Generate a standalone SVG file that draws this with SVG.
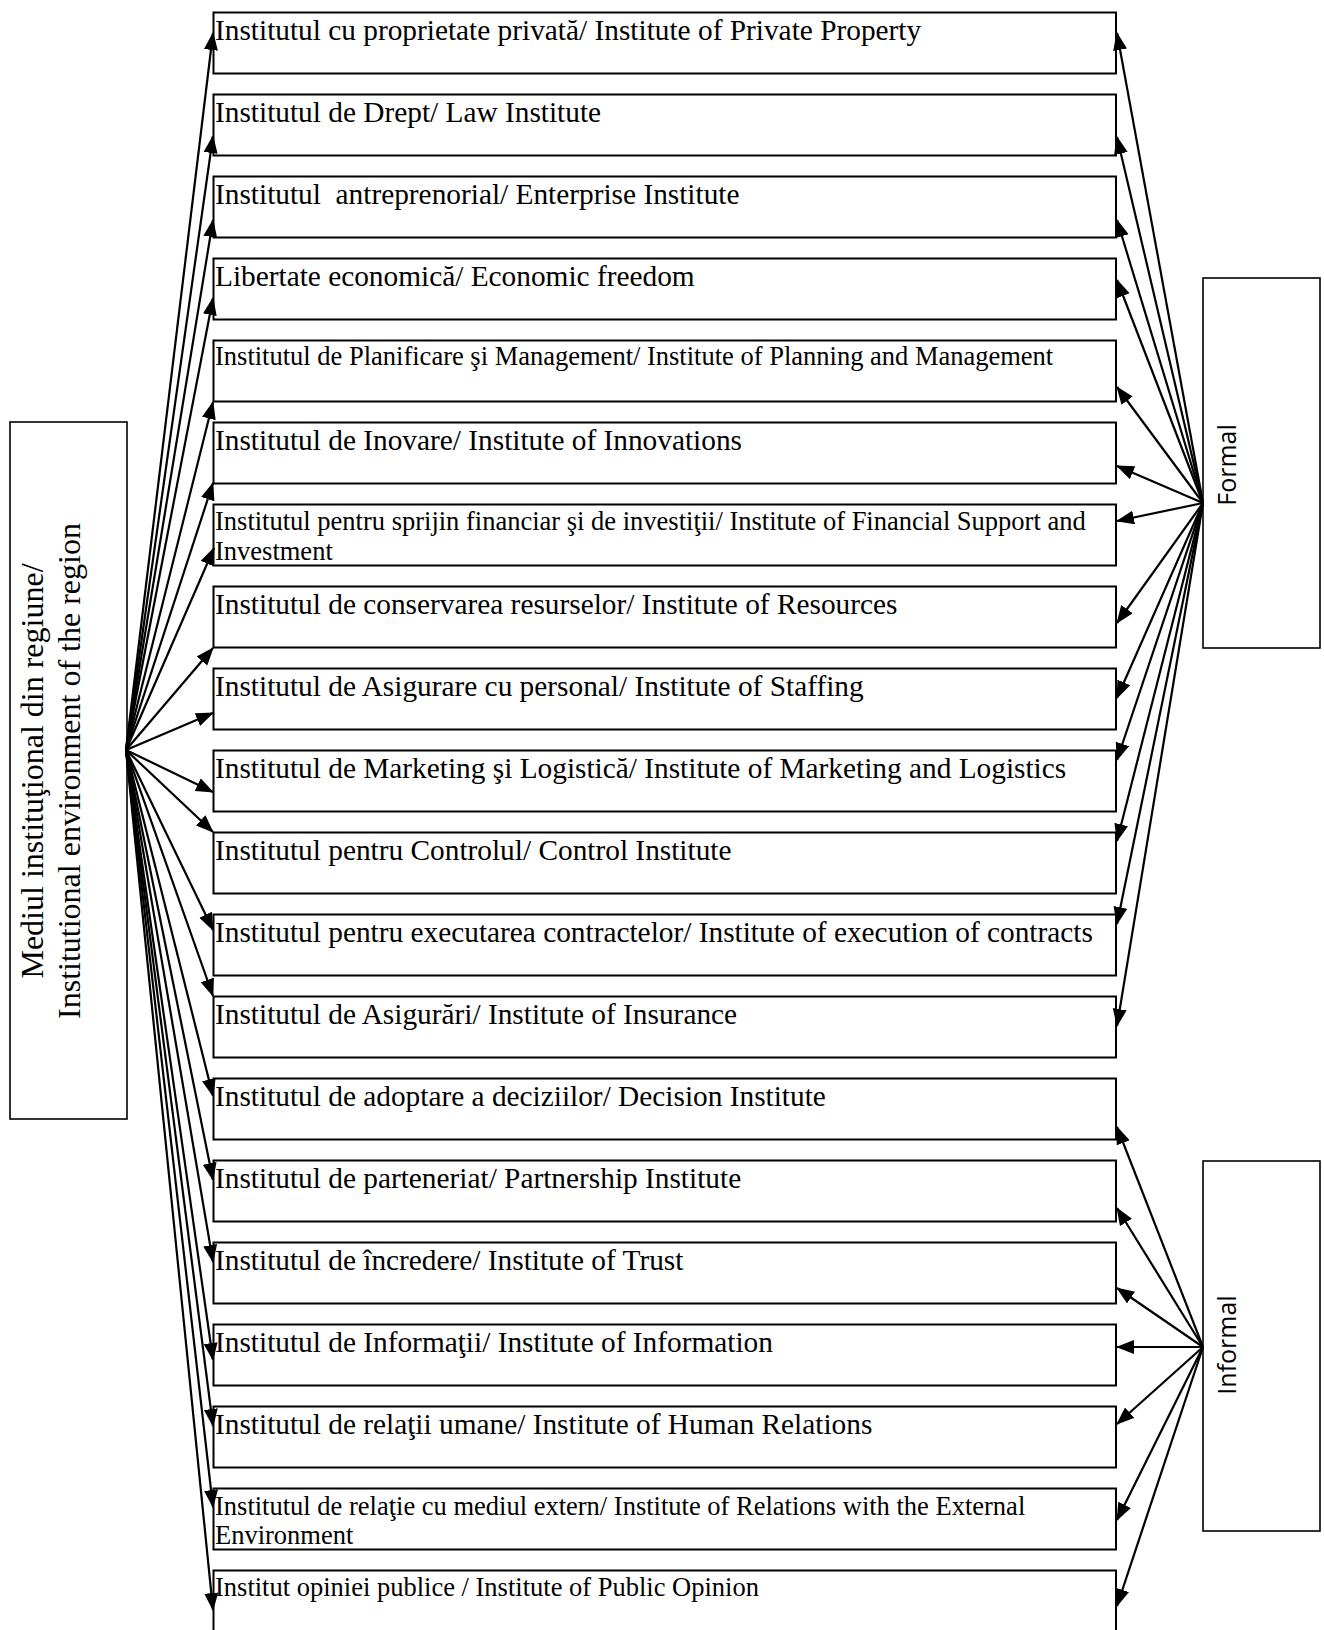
<svg xmlns="http://www.w3.org/2000/svg" width="1324" height="1630" viewBox="0 0 1324 1630">
<style>
.box{fill:#fff;stroke:#000;stroke-width:2}
.side{fill:#fff;stroke:#000;stroke-width:1.6}
.t{font-family:"Liberation Serif","Times New Roman",serif;font-size:29.33px;fill:#000}
.s{font-family:"Liberation Serif","Times New Roman",serif;font-size:26.5px;fill:#000}
.lt{font-family:"Liberation Serif","Times New Roman",serif;font-size:32px;fill:#000}
.st{font-family:"Open Sans","Liberation Sans",sans-serif;font-size:25px;fill:#000}
.c line{stroke:#000;stroke-width:2.2;marker-end:url(#ah)}
</style>
<defs>
<marker id="ah" markerUnits="userSpaceOnUse" markerWidth="18" markerHeight="15" refX="17" refY="7" orient="auto">
<path d="M0,0 L18,7 L0,14 z" fill="#000"/>
</marker>
</defs>
<g id="n1"><rect class="box" x="213.5" y="12.5" width="902.5" height="61"/><text class="t" x="215" y="39.5">Institutul cu proprietate privată/ Institute of Private Property</text></g>
<g id="n2"><rect class="box" x="213.5" y="94.5" width="902.5" height="61"/><text class="t" x="215" y="121.5">Institutul de Drept/ Law Institute</text></g>
<g id="n3"><rect class="box" x="213.5" y="176.5" width="902.5" height="61"/><text class="t" x="215" y="203.5" xml:space="preserve">Institutul  antreprenorial/ Enterprise Institute</text></g>
<g id="n4"><rect class="box" x="213.5" y="258.5" width="902.5" height="61"/><text class="t" x="215" y="285.5">Libertate economică/ Economic freedom</text></g>
<g id="n5"><rect class="box" x="213.5" y="340.5" width="902.5" height="61"/><text class="s" x="215" y="365">Institutul de Planificare şi Management/ Institute of Planning and Management</text></g>
<g id="n6"><rect class="box" x="213.5" y="422.5" width="902.5" height="61"/><text class="t" x="215" y="449.5">Institutul de Inovare/ Institute of Innovations</text></g>
<g id="n7"><rect class="box" x="213.5" y="504.5" width="902.5" height="61"/><text class="s" x="215" y="530">Institutul pentru sprijin financiar şi de investiţii/ Institute of Financial Support and</text><text class="s" x="215" y="560">Investment</text></g>
<g id="n8"><rect class="box" x="213.5" y="586.5" width="902.5" height="61"/><text class="t" x="215" y="613.5">Institutul de conservarea resurselor/ Institute of Resources</text></g>
<g id="n9"><rect class="box" x="213.5" y="668.5" width="902.5" height="61"/><text class="t" x="215" y="695.5">Institutul de Asigurare cu personal/ Institute of Staffing</text></g>
<g id="n10"><rect class="box" x="213.5" y="750.5" width="902.5" height="61"/><text class="t" x="215" y="777.5">Institutul de Marketing şi Logistică/ Institute of Marketing and Logistics</text></g>
<g id="n11"><rect class="box" x="213.5" y="832.5" width="902.5" height="61"/><text class="t" x="215" y="859.5">Institutul pentru Controlul/ Control Institute</text></g>
<g id="n12"><rect class="box" x="213.5" y="914.5" width="902.5" height="61"/><text class="t" x="215" y="941.5">Institutul pentru executarea contractelor/ Institute of execution of contracts</text></g>
<g id="n13"><rect class="box" x="213.5" y="996.5" width="902.5" height="61"/><text class="t" x="215" y="1023.5">Institutul de Asigurări/ Institute of Insurance</text></g>
<g id="n14"><rect class="box" x="213.5" y="1078.5" width="902.5" height="61"/><text class="t" x="215" y="1105.5">Institutul de adoptare a deciziilor/ Decision Institute</text></g>
<g id="n15"><rect class="box" x="213.5" y="1160.5" width="902.5" height="61"/><text class="t" x="215" y="1187.5">Institutul de parteneriat/ Partnership Institute</text></g>
<g id="n16"><rect class="box" x="213.5" y="1242.5" width="902.5" height="61"/><text class="t" x="215" y="1269.5">Institutul de încredere/ Institute of Trust</text></g>
<g id="n17"><rect class="box" x="213.5" y="1324.5" width="902.5" height="61"/><text class="t" x="215" y="1351.5">Institutul de Informaţii/ Institute of Information</text></g>
<g id="n18"><rect class="box" x="213.5" y="1406.5" width="902.5" height="61"/><text class="t" x="215" y="1433.5">Institutul de relaţii umane/ Institute of Human Relations</text></g>
<g id="n19"><rect class="box" x="213.5" y="1488.5" width="902.5" height="61"/><text class="s" x="215" y="1515">Institutul de relaţie cu mediul extern/ Institute of Relations with the External</text><text class="s" x="215" y="1544">Environment</text></g>
<g id="n20"><rect class="box" x="213.5" y="1570.5" width="902.5" height="61"/><text class="s" x="215" y="1596">Institut opiniei publice / Institute of Public Opinion</text></g>
<g id="env"><rect class="side" x="10" y="422" width="117" height="697"/><text class="lt" text-anchor="middle" transform="translate(43,771) rotate(-90)">Mediul instituţional din regiune/</text><text class="lt" text-anchor="middle" transform="translate(80,771) rotate(-90)">Institutional environment of the region</text></g>
<g id="formal"><rect class="side" x="1203" y="278" width="117" height="370"/><text class="st" text-anchor="middle" transform="translate(1236,465) rotate(-90)">Formal</text></g>
<g id="informal"><rect class="side" x="1203" y="1161" width="117" height="370"/><text class="st" text-anchor="middle" transform="translate(1236,1345) rotate(-90)">Informal</text></g>
<g id="connectors" class="c">
<line x1="126" y1="750" x2="213" y2="33"/>
<line x1="126" y1="750" x2="213" y2="136"/>
<line x1="126" y1="750" x2="213" y2="220"/>
<line x1="126" y1="750" x2="213" y2="298"/>
<line x1="126" y1="750" x2="213" y2="402"/>
<line x1="126" y1="750" x2="213" y2="483"/>
<line x1="126" y1="750" x2="214" y2="548"/>
<line x1="126" y1="750" x2="213" y2="648"/>
<line x1="126" y1="750" x2="213" y2="713"/>
<line x1="126" y1="750" x2="213" y2="792"/>
<line x1="126" y1="750" x2="213" y2="832"/>
<line x1="126" y1="750" x2="213" y2="930"/>
<line x1="126" y1="750" x2="213" y2="996"/>
<line x1="126" y1="750" x2="213" y2="1096"/>
<line x1="126" y1="750" x2="213" y2="1180"/>
<line x1="126" y1="750" x2="213" y2="1262"/>
<line x1="126" y1="750" x2="213" y2="1360"/>
<line x1="126" y1="750" x2="213" y2="1426"/>
<line x1="126" y1="750" x2="213" y2="1507"/>
<line x1="126" y1="750" x2="213" y2="1610"/>
<line x1="1203" y1="503" x2="1117" y2="33"/>
<line x1="1203" y1="503" x2="1117" y2="137"/>
<line x1="1203" y1="503" x2="1117" y2="220"/>
<line x1="1203" y1="503" x2="1117" y2="280"/>
<line x1="1203" y1="503" x2="1117" y2="387"/>
<line x1="1203" y1="503" x2="1117" y2="466"/>
<line x1="1203" y1="503" x2="1117" y2="521"/>
<line x1="1203" y1="503" x2="1117" y2="623"/>
<line x1="1203" y1="503" x2="1117" y2="698"/>
<line x1="1203" y1="503" x2="1117" y2="760"/>
<line x1="1203" y1="503" x2="1117" y2="841"/>
<line x1="1203" y1="503" x2="1117" y2="924"/>
<line x1="1203" y1="503" x2="1117" y2="1026"/>
<line x1="1203" y1="1347" x2="1117" y2="1127"/>
<line x1="1203" y1="1347" x2="1117" y2="1208"/>
<line x1="1203" y1="1347" x2="1117" y2="1288"/>
<line x1="1203" y1="1347" x2="1117" y2="1347"/>
<line x1="1203" y1="1347" x2="1117" y2="1424"/>
<line x1="1203" y1="1347" x2="1117" y2="1520"/>
<line x1="1203" y1="1347" x2="1117" y2="1606"/>
</g>
</svg>
